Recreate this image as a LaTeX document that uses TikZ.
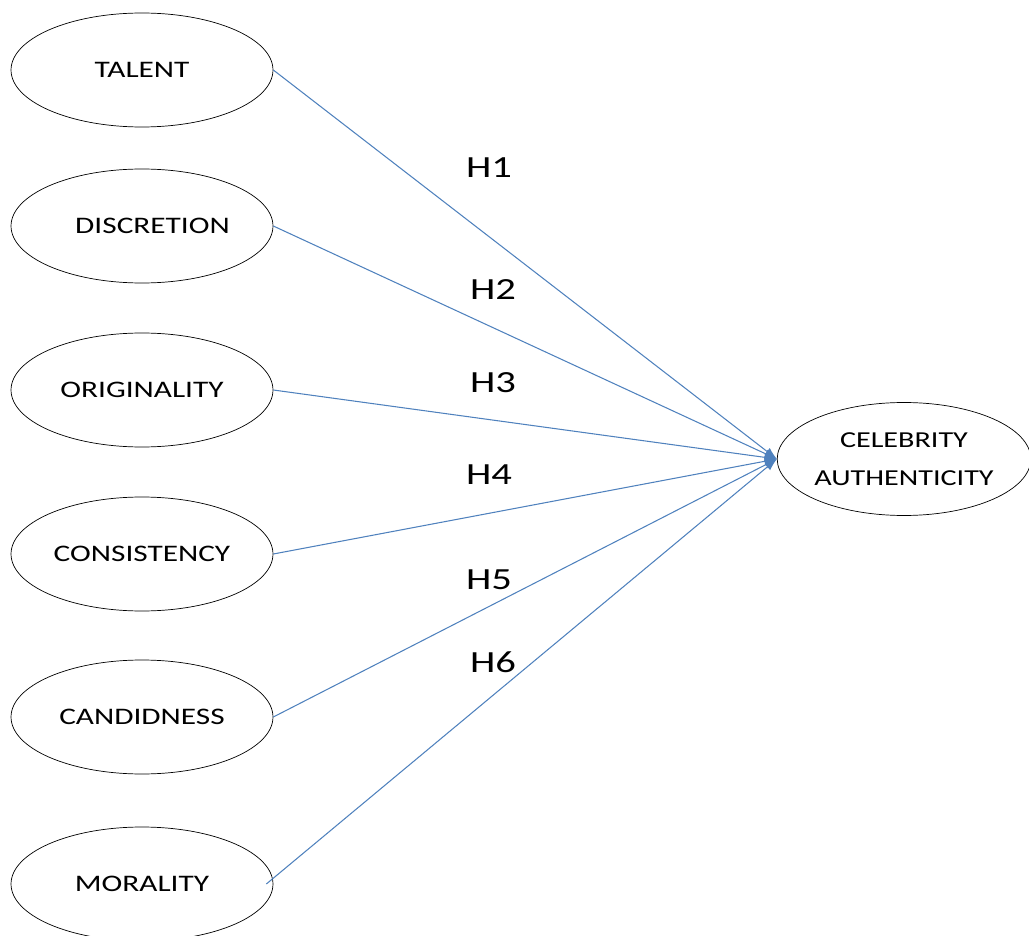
\documentclass[tikz,border=0pt]{standalone}
\usepackage{fontspec}
\setmainfont[FakeStretch=1.32]{Carlito}
\usepackage{tikz}
\usetikzlibrary{calc,shapes.geometric,arrows.meta}
\definecolor{pathblue}{RGB}{79,129,189}
\def\construct{\node[ellipse,draw=black,thin,inner sep=0pt,minimum width=5.24cm,minimum height=2.28cm,font=\fontsize{13.5}{21.5}\selectfont,align=center]}
\def\hyplabel{\node[font=\fontsize{17.5}{20}\selectfont]}
\def\drawpath{\draw[color=pathblue, line width=0.6pt, -{Latex[length=7pt,width=5pt]}]}

\begin{document}
\begin{tikzpicture}[x=0.02cm,y=-0.02cm]
\useasboundingbox (0,0) rectangle (1029,936);

% -------- the six dimensions, left column ---------
\construct (talent) at (142,70) {TALENT};
\construct (discretion) at (142,226) {\hspace*{12pt}DISCRETION};
\construct (originality) at (142,390) {ORIGINALITY};
\construct (consistency) at (142,554) {CONSISTENCY};
\construct (candidness) at (142,717) {CANDIDNESS};
\construct (morality) at (142,884) {MORALITY};

% outcome
\construct[minimum width=4.96cm,minimum height=2.26cm,font=\fontsize{13}{21.5}\selectfont] (authenticity) at (904,459) {CELEBRITY\\AUTHENTICITY};

% -------- hypothesised paths ---------
\drawpath (talent.east) -- (authenticity.west);
\drawpath (discretion.east) -- (authenticity.west);
\drawpath (originality.east) -- (authenticity.west);
\drawpath (consistency.east) -- (authenticity.west);
\drawpath (candidness.east) -- (authenticity.west);
\drawpath ($ (morality.east) - (7,0) $) -- (authenticity.west);

\hyplabel (h1) at (489,168) {H1};
\hyplabel (h2) at (493,290) {H2};
\hyplabel (h3) at (493,383) {H3};
\hyplabel (h4) at (489,475) {H4};
\hyplabel (h5) at (489,580) {H5};
\hyplabel (h6) at (493,662) {H6};
\end{tikzpicture}
\end{document}
